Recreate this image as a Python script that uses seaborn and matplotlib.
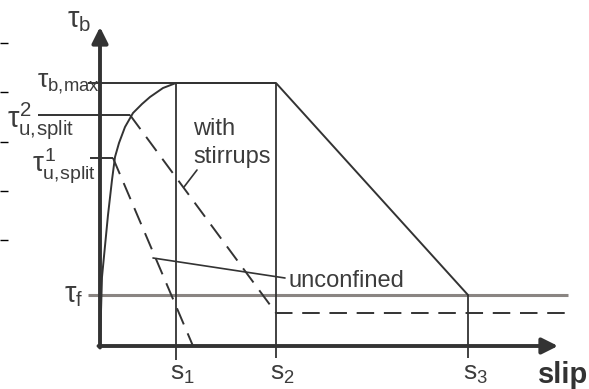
import matplotlib
matplotlib.use("Agg")
import matplotlib.pyplot as plt
import seaborn as sns
import pandas as pd

# bond stress - slip model (arbitrary units)
s1, s2, s3, s_end = 0.76, 1.76, 3.68, 4.68
tau_max, tau_split2, tau_split1 = 2.63, 2.31, 1.88
tau_f, tau_res = 0.51, 0.33

# ascending branch
curve_s = [0, 0.02, 0.08, 0.12, 0.15, 0.19, 0.25, 0.33, 0.42, 0.50, 0.63, 0.76]
curve_tau = [0, 0.69, 1.31, 1.66, 1.89, 2.03, 2.19, 2.33, 2.42, 2.49, 2.58, 2.63]

# plateau and softening branch
plateau_s = [s1, s2, s3]
plateau_tau = [tau_max, tau_max, tau_f]

# splitting failure branches (dashed)
unconf_s = [0.13, 0.93]
unconf_tau = [tau_split1, 0]
stirr_s = [0.30, s2, s_end]
stirr_tau = [tau_split2, tau_res, tau_res]

# leader lines for the labels
lead_unconf_s = [0.53, 1.85]
lead_unconf_tau = [0.88, 0.68]
lead_stirr_s = [0.97, 0.84]
lead_stirr_tau = [1.76, 1.59]

# small crop marks on the left edge
edge_marks = [3.03, 2.54, 2.04, 1.55, 1.06]

sns.set_style("white")
plt.rcParams['font.family'] = ['Liberation Sans', 'DejaVu Sans']
plt.rcParams['mathtext.fontset'] = 'custom'
plt.rcParams['mathtext.rm'] = 'Liberation Sans'
plt.rcParams['mathtext.it'] = 'Liberation Sans'
plt.rcParams['mathtext.bf'] = 'Liberation Sans:bold'

dark = '#333333'
txt = '#3c3c3c'

fig = plt.figure(figsize=(5.89, 3.89), dpi=100)
ax = fig.add_axes([0, 0, 1, 1])
ax.set_xlim(-1.0, 4.89)
ax.set_ylim(-0.43, 3.46)
ax.axis('off')

# reference levels
ax.hlines(tau_max, -0.12, s2, color=dark, lw=1.4)
ax.hlines(tau_split2, -0.62, 0.30, color=dark, lw=1.4)
ax.hlines(tau_split1, -0.10, 0.13, color=dark, lw=1.4)
ax.hlines(tau_f, -0.12, s_end, color='#8a8582', lw=2.2)
ax.vlines(s1, -0.14, tau_max, color=dark, lw=1.3)
ax.vlines(s2, -0.12, tau_max, color=dark, lw=1.3)
ax.vlines(s3, -0.12, tau_f, color=dark, lw=1.3)

# bond-slip curve
df = pd.DataFrame({'slip': curve_s, 'tau': curve_tau})
sns.lineplot(data=df, x='slip', y='tau', ax=ax, color=dark, lw=1.4, sort=False)
sns.lineplot(x=plateau_s, y=plateau_tau, ax=ax, color=dark, lw=1.4, sort=False)

ax.plot(unconf_s, unconf_tau, color=dark, lw=1.4, ls=(0, (9, 5)))
ax.plot(stirr_s, stirr_tau, color=dark, lw=1.4, ls=(0, (9, 5)))

ax.plot(lead_unconf_s, lead_unconf_tau, color=dark, lw=1.2)
ax.plot(lead_stirr_s, lead_stirr_tau, color=dark, lw=1.2)

ax.hlines(edge_marks, -1.0, -0.92, color='black', lw=1.0)

# axes with arrows
arrow = dict(arrowstyle='-|>', lw=2.8, color=dark, mutation_scale=24,
             shrinkA=0, shrinkB=0)
ax.annotate('', xy=(0, 3.19), xytext=(0, -0.015), arrowprops=arrow)
ax.annotate('', xy=(4.58, 0), xytext=(-0.015, 0), arrowprops=arrow)

# labels
ax.text(-0.33, 3.19, r'$\tau_{\mathrm{b}}$', fontsize=21, color=txt)
ax.text(-0.63, 2.59, r'$\tau_{\mathrm{b,\!max}}$', fontsize=19, color=txt)
ax.text(-0.93, 2.19, r'$\tau^{2}_{\mathrm{u,\!split}}$', fontsize=21, color=txt)
ax.text(-0.68, 1.74, r'$\tau^{1}_{\mathrm{u,\!split}}$', fontsize=20, color=txt)
ax.text(-0.36, 0.44, r'$\tau_{\mathrm{f}}$', fontsize=21, color=txt)

ax.text(0.70, -0.34, r'$\mathrm{s}_{1}$', fontsize=19, color=txt)
ax.text(1.70, -0.34, r'$\mathrm{s}_{2}$', fontsize=19, color=txt)
ax.text(3.63, -0.34, r'$\mathrm{s}_{3}$', fontsize=19, color=txt)
ax.text(4.38, -0.37, 'slip', fontsize=21, fontweight='bold', color=dark)

ax.text(0.93, 2.11, 'with', fontsize=17, color=txt)
ax.text(0.93, 1.83, 'stirrups', fontsize=17, color=txt)
ax.text(1.88, 0.59, 'unconfined', fontsize=17, color=txt)

fig.savefig('out.png', dpi=100)
